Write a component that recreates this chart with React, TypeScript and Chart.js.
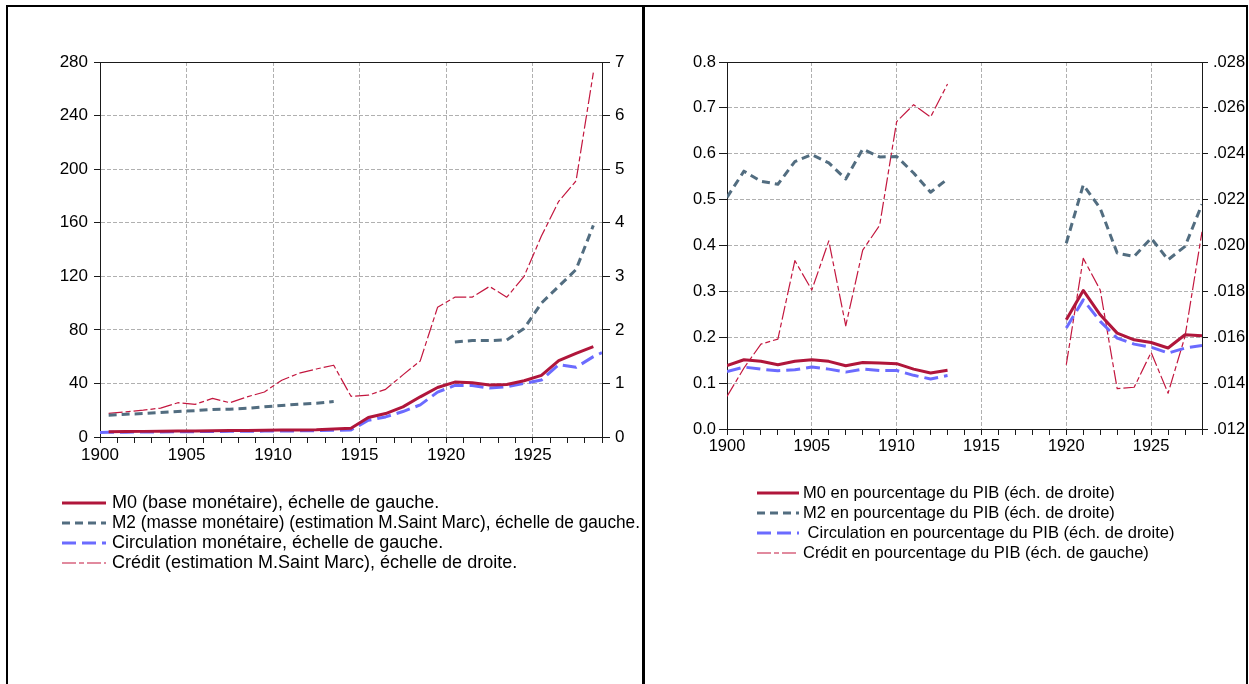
import React, { useEffect, useRef } from 'react';
import { Chart, registerables } from 'chart.js';

Chart.register(...registerables);

// ---------------- DATA ----------------
const YEARS = [
  1900, 1901, 1902, 1903, 1904, 1905, 1906, 1907, 1908, 1909,
  1910, 1911, 1912, 1913, 1914, 1915, 1916, 1917, 1918, 1919,
  1920, 1921, 1922, 1923, 1924, 1925, 1926, 1927, 1928,
];

// Left panel (levels)
const M0_LEVEL = [
  4.0, 4.1, 4.2, 4.3, 4.4, 4.5, 4.7, 4.8, 4.9, 5.1,
  5.2, 5.3, 5.5, 6.0, 6.5, 14.5, 17.5, 22.5, 30, 37,
  41, 40.5, 38.8, 39.2, 42, 46, 57, 62.5, 67.5,
];
const M2_LEVEL = [
  16.3, 17.0, 17.5, 18.3, 19.0, 19.7, 20.5, 20.8, 21.4, 22.5,
  23.5, 24.5, 25.2, 26.5, null, null, null, null, null, null,
  71, 72, 72, 72.5, 81, 100, 112.5, 125, 158,
];
const CIRC_LEVEL = [
  3.5, 3.6, 3.7, 3.8, 3.9, 4.0, 4.1, 4.2, 4.3, 4.4,
  4.5, 4.6, 4.7, 5.0, 5.2, 12.5, 15, 19, 24, 33.5,
  38.5, 38.5, 36.5, 37.5, 40, 42.5, 54, 52, 60,
];
const CIRC_LEVEL_START = 3.3; // value at start of 1900
const CIRC_LEVEL_END = 63; // value at end of 1928
const CREDIT_LEVEL = [
  0.44, 0.47, 0.50, 0.54, 0.64, 0.61, 0.72, 0.64, 0.75, 0.84,
  1.06, 1.19, 1.27, 1.34, 0.76, 0.78, 0.89, 1.16, 1.42, 2.42,
  2.61, 2.61, 2.81, 2.61, 3.0, 3.75, 4.4, 4.78, 6.8,
];

// Right panel (% of GDP)
const M0_PIB = [
  0.01476, 0.01502, 0.01495, 0.0148, 0.01495, 0.01502, 0.01495, 0.01476, 0.0149, 0.01488,
  0.01485, 0.01461, 0.01444, 0.01456, null, null, null, null, null, null,
  0.01676, 0.01804, 0.01698, 0.01618, 0.01589, 0.01577, 0.01553, 0.01611, 0.01607,
];
const M2_PIB = [
  0.0221, 0.02324, 0.0228, 0.02267, 0.02366, 0.02396, 0.0236, 0.0229, 0.0242, 0.02386,
  0.02388, 0.02316, 0.02232, 0.0229, null, null, null, null, null, null,
  0.0201, 0.02264, 0.02162, 0.01967, 0.01952, 0.02032, 0.01938, 0.01996, 0.0218,
];
const CIRC_PIB = [
  0.01451, 0.0147, 0.01461, 0.01454, 0.01458, 0.0147, 0.01461, 0.01448, 0.01461, 0.01455,
  0.01455, 0.01434, 0.01418, 0.01433, null, null, null, null, null, null,
  0.0164, 0.01763, 0.01669, 0.01596, 0.0157, 0.01557, 0.01531, 0.01553, 0.01564,
];
const CREDIT_PIB = [
  0.071, 0.133, 0.185, 0.196, 0.367, 0.303, 0.41, 0.225, 0.39, 0.444,
  0.67, 0.707, 0.68, 0.752, null, null, null, null, null, null,
  0.14, 0.372, 0.303, 0.088, 0.091, 0.167, 0.078, 0.202, 0.43,
];

// Tick labels
const X_LABEL_YEARS = [1900, 1905, 1910, 1915, 1920, 1925];
const LEFT_X_RANGE = [1900, 1929];
const RIGHT_X_RANGE = [1900, 1928];
const LEFT_Y_TICKS = [0, 40, 80, 120, 160, 200, 240, 280];
const LEFT_Y2_TICKS = [0, 1, 2, 3, 4, 5, 6, 7];
const RIGHT_Y_TICKS = [0.0, 0.1, 0.2, 0.3, 0.4, 0.5, 0.6, 0.7, 0.8];
const RIGHT_Y2_TICKS = [0.012, 0.014, 0.016, 0.018, 0.02, 0.022, 0.024, 0.026, 0.028];

// Legend labels
const LEFT_LEGEND = [
  'M0 (base monétaire), échelle de gauche.',
  'M2 (masse monétaire) (estimation M.Saint Marc), échelle de gauche.',
  'Circulation monétaire, échelle de gauche.',
  'Crédit (estimation M.Saint Marc), échelle de droite.',
];
const RIGHT_LEGEND = [
  'M0 en pourcentage du PIB (éch. de droite)',
  'M2 en pourcentage du PIB (éch. de droite)',
  ' Circulation en pourcentage du PIB (éch. de droite)',
  'Crédit en pourcentage du PIB (éch. de gauche)',
];

// ---------------- STYLE ----------------
const FONT = '"Liberation Sans", Arial, Helvetica, sans-serif';
const C_M0 = '#b0163b';
const C_M2 = '#526d80';
const C_CIRC = '#6b6bff';
const C_CREDIT = '#c3173f';
const GRID = '#b0b0b0';
const AXIS = '#1a1a1a';

const lineDs = (label: string, data: any[], color: string, width: number, dash: number[], axis: string) => ({
  label,
  data,
  borderColor: color,
  backgroundColor: color,
  borderWidth: width,
  borderDash: dash,
  borderCapStyle: 'butt',
  borderJoinStyle: 'round',
  pointRadius: 0,
  pointHoverRadius: 0,
  tension: 0,
  spanGaps: false,
  fill: false,
  yAxisID: axis,
});

function makeFramePlugin(legend: { texts: string[]; y0: number; gap: number; x0: number; x1: number; tx: number; font: string; maxW: number }) {
  return {
    id: 'frameLegend',
    afterDraw(chart: any) {
      const { ctx, chartArea: a } = chart;
      ctx.save();
      ctx.strokeStyle = AXIS;
      ctx.lineWidth = 1;
      ctx.setLineDash([]);
      ctx.beginPath();
      const ty = Math.round(a.top) + 0.5;
      ctx.moveTo(a.left, ty);
      ctx.lineTo(a.right, ty);
      ctx.stroke();
      legend.texts.forEach((text, i) => {
        const ds = chart.data.datasets[i];
        const y = legend.y0 + i * legend.gap;
        ctx.save();
        ctx.strokeStyle = ds.borderColor;
        ctx.lineWidth = ds.borderWidth;
        ctx.setLineDash(ds.borderDash || []);
        ctx.lineCap = 'butt';
        ctx.beginPath();
        ctx.moveTo(legend.x0, y);
        ctx.lineTo(legend.x1, y);
        ctx.stroke();
        ctx.restore();
        ctx.fillStyle = '#000';
        ctx.font = legend.font;
        ctx.textBaseline = 'middle';
        ctx.textAlign = 'left';
        ctx.fillText(text, legend.tx, y, legend.maxW);
      });
      ctx.restore();
    },
  };
}

function xScale(range: number[], fontSize: number) {
  return {
    type: 'linear',
    position: 'bottom',
    min: range[0],
    max: range[1],
    afterFit: (s: any) => { s.height = 30; },
    ticks: {
      stepSize: 1,
      autoSkip: false,
      maxRotation: 0,
      minRotation: 0,
      padding: 2,
      color: '#000',
      font: { family: FONT, size: fontSize },
      callback: (v: any) => (X_LABEL_YEARS.includes(Number(v)) ? String(v) : ''),
    },
    grid: {
      drawOnChartArea: true,
      drawTicks: true,
      tickLength: 6,
      lineWidth: 1,
      color: (c: any) => (c.tick && X_LABEL_YEARS.includes(c.tick.value) && c.tick.value > range[0] ? GRID : 'rgba(0,0,0,0)'),
      tickColor: AXIS,
      tickBorderDash: [],
    },
    border: { display: true, color: AXIS, width: 1, dash: [4, 2] },
  };
}

function yScale(ticksArr: number[], position: string, width: number, tickLength: number, padding: number, fontSize: number, onArea: boolean, fmt: (v: number) => string) {
  const step = ticksArr[1] - ticksArr[0];
  return {
    type: 'linear',
    position,
    min: ticksArr[0],
    max: ticksArr[ticksArr.length - 1],
    afterFit: (s: any) => { s.width = width; },
    ticks: {
      stepSize: step,
      autoSkip: false,
      padding,
      color: '#000',
      font: { family: FONT, size: fontSize },
      callback: (v: any) => fmt(Number(v)),
    },
    grid: {
      drawOnChartArea: onArea,
      drawTicks: true,
      tickLength,
      lineWidth: 1,
      color: (c: any) => {
        if (!c.tick) return GRID;
        const v = c.tick.value;
        const lo = ticksArr[0];
        const hi = ticksArr[ticksArr.length - 1];
        return Math.abs(v - lo) < step / 100 || Math.abs(v - hi) < step / 100 ? 'rgba(0,0,0,0)' : GRID;
      },
      tickColor: AXIS,
      tickBorderDash: [],
    },
    border: { display: true, color: AXIS, width: 1, dash: [4, 2] },
  };
}

function useChart(ref: any, buildConfig: () => any) {
  useEffect(() => {
    const chart = new Chart(ref.current, buildConfig());
    return () => chart.destroy();
  }, []);
}

function LeftChart() {
  const ref = useRef<HTMLCanvasElement>(null);
  useChart(ref, () => {
    const mid = (arr: any[]) => YEARS.map((y, i) => ({ x: y + 0.5, y: arr[i] }));
    const circ = [{ x: YEARS[0], y: CIRC_LEVEL_START }, ...mid(CIRC_LEVEL), { x: YEARS[YEARS.length - 1] + 1, y: CIRC_LEVEL_END }];
    return {
      type: 'line',
      data: {
        datasets: [
          lineDs(LEFT_LEGEND[0], mid(M0_LEVEL), C_M0, 3, [], 'y'),
          lineDs(LEFT_LEGEND[1], mid(M2_LEVEL), C_M2, 3, [8, 5], 'y'),
          lineDs(LEFT_LEGEND[2], circ, C_CIRC, 3, [14, 6], 'y'),
          lineDs(LEFT_LEGEND[3], mid(CREDIT_LEVEL), C_CREDIT, 1.2, [14, 3, 5, 3], 'y2'),
        ],
      },
      options: {
        animation: false,
        responsive: false,
        devicePixelRatio: 1,
        parsing: true,
        layout: { padding: { top: 55, left: 0, right: 0, bottom: 217 } },
        plugins: { legend: { display: false }, tooltip: { enabled: false } },
        scales: {
          x: xScale(LEFT_X_RANGE, 17),
          y: yScale(LEFT_Y_TICKS, 'left', 92, 6, 6, 17, true, (v) => String(Math.round(v))),
          y2: yScale(LEFT_Y2_TICKS, 'right', 40, 8, 5, 17, false, (v) => String(Math.round(v))),
        },
      },
      plugins: [
        makeFramePlugin({
          texts: LEFT_LEGEND, y0: 496, gap: 20, x0: 54, x1: 98, tx: 104,
          font: `18px ${FONT}`, maxW: 528,
        }),
      ],
    };
  });
  return (
    <canvas
      ref={ref}
      width={634}
      height={677}
      style={{ position: 'absolute', left: 8, top: 7, width: 634, height: 677 }}
    />
  );
}

function RightChart() {
  const ref = useRef<HTMLCanvasElement>(null);
  useChart(ref, () => {
    const pts = (arr: any[]) => YEARS.map((y, i) => ({ x: y, y: arr[i] }));
    return {
      type: 'line',
      data: {
        datasets: [
          lineDs(RIGHT_LEGEND[0], pts(M0_PIB), C_M0, 3, [], 'y2'),
          lineDs(RIGHT_LEGEND[1], pts(M2_PIB), C_M2, 3, [8, 5], 'y2'),
          lineDs(RIGHT_LEGEND[2], pts(CIRC_PIB), C_CIRC, 3, [14, 6], 'y2'),
          lineDs(RIGHT_LEGEND[3], pts(CREDIT_PIB), C_CREDIT, 1.2, [14, 3, 5, 3], 'y'),
        ],
      },
      options: {
        animation: false,
        responsive: false,
        devicePixelRatio: 1,
        layout: { padding: { top: 55, left: 0, right: 0, bottom: 225 } },
        plugins: { legend: { display: false }, tooltip: { enabled: false } },
        scales: {
          x: xScale(RIGHT_X_RANGE, 16.5),
          y: yScale(RIGHT_Y_TICKS, 'left', 82, 8, 3, 16.5, true, (v) => v.toFixed(1)),
          y2: yScale(RIGHT_Y2_TICKS, 'right', 44, 6, 5, 16.5, false, (v) => v.toFixed(3).replace(/^0/, '')),
        },
      },
      plugins: [
        makeFramePlugin({
          texts: RIGHT_LEGEND, y0: 486, gap: 20, x0: 112, x1: 154, tx: 158,
          font: `16.5px ${FONT}`, maxW: 440,
        }),
      ],
    };
  });
  return (
    <canvas
      ref={ref}
      width={601}
      height={677}
      style={{ position: 'absolute', left: 645, top: 7, width: 601, height: 677 }}
    />
  );
}

export default function App() {
  return (
    <div
      style={{
        position: 'absolute',
        left: 0,
        top: 0,
        width: 1249,
        height: 684,
        overflow: 'hidden',
        background: '#fff',
      }}
    >
      <div
        style={{
          position: 'absolute',
          left: 6,
          top: 5,
          width: 1238,
          height: 700,
          borderLeft: '2px solid #000',
          borderTop: '2px solid #000',
          borderRight: '2px solid #000',
        }}
      />
      <div style={{ position: 'absolute', left: 642, top: 5, width: 3, height: 700, background: '#000' }} />
      <LeftChart />
      <RightChart />
    </div>
  );
}
